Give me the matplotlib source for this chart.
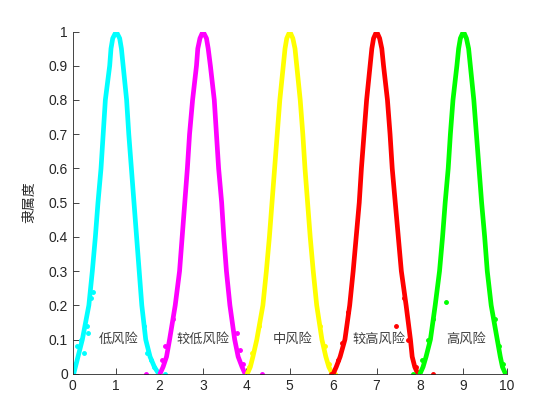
import matplotlib
matplotlib.use('Agg')
import matplotlib.pyplot as plt

plt.rcParams['font.family'] = ['Liberation Sans', 'Noto Sans CJK SC', 'DejaVu Sans']

# 隶属度水平（左右两支共用）
levels = [0.0, 0.02, 0.05, 0.1, 0.2, 0.3, 0.4, 0.5, 0.6, 0.7, 0.8, 0.9, 0.95, 0.98, 1.0]

names = ['低风险', '较低风险', '中风险', '较高风险', '高风险']
colors = ['#00ffff', '#ff00ff', '#ffff00', '#ff0000', '#00ff00']

# 各云左支、右支在各隶属度水平处的x位置
left_x = [
    [0.02, 0.06, 0.12, 0.22, 0.37, 0.45, 0.52, 0.58, 0.65, 0.70, 0.75, 0.85, 0.88, 0.92, 1.0],
    [2.01, 2.08, 2.16, 2.23, 2.36, 2.46, 2.52, 2.58, 2.64, 2.69, 2.76, 2.85, 2.88, 2.93, 3.0],
    [4.02, 4.09, 4.15, 4.24, 4.38, 4.46, 4.53, 4.59, 4.65, 4.71, 4.77, 4.85, 4.89, 4.93, 5.0],
    [6.00, 6.07, 6.16, 6.27, 6.38, 6.46, 6.53, 6.60, 6.65, 6.71, 6.77, 6.85, 6.89, 6.93, 7.0],
    [8.00, 8.07, 8.14, 8.24, 8.35, 8.45, 8.52, 8.58, 8.65, 8.70, 8.76, 8.85, 8.89, 8.93, 9.0],
]
right_x = [
    [1.98, 1.88, 1.78, 1.68, 1.59, 1.53, 1.47, 1.41, 1.35, 1.29, 1.24, 1.16, 1.12, 1.08, 1.0],
    [3.97, 3.90, 3.81, 3.73, 3.62, 3.54, 3.48, 3.43, 3.36, 3.31, 3.26, 3.17, 3.12, 3.08, 3.0],
    [5.98, 5.90, 5.83, 5.74, 5.62, 5.54, 5.47, 5.41, 5.35, 5.30, 5.24, 5.16, 5.12, 5.07, 5.0],
    [7.95, 7.88, 7.82, 7.78, 7.68, 7.57, 7.50, 7.43, 7.36, 7.31, 7.25, 7.16, 7.12, 7.07, 7.0],
    [9.97, 9.90, 9.85, 9.78, 9.64, 9.55, 9.49, 9.42, 9.36, 9.30, 9.24, 9.16, 9.12, 9.07, 9.0],
]

# 离散的云滴
stray_x = [
    [0.05, 0.10, 0.20, 0.25, 0.32, 0.36, 0.42, 0.47, 1.65, 1.72, 1.80, 1.86, 2.12],
    [1.69, 2.05, 2.12, 2.30, 3.78, 3.85, 3.92, 4.35],
    [4.05, 4.12, 4.30, 5.70, 5.80, 5.90, 6.05],
    [5.95, 6.12, 6.20, 6.35, 7.45, 7.62, 7.72, 7.90, 8.30],
    [7.85, 8.05, 8.18, 8.30, 8.60, 9.72, 9.82, 9.92],
]
stray_y = [
    [0.03, 0.08, 0.10, 0.06, 0.14, 0.12, 0.22, 0.24, 0.14, 0.06, 0.04, 0.02, 0.0],
    [0.0, 0.04, 0.08, 0.16, 0.12, 0.07, 0.03, 0.0],
    [0.02, 0.06, 0.14, 0.14, 0.08, 0.03, 0.0],
    [0.0, 0.04, 0.09, 0.18, 0.14, 0.22, 0.10, 0.02, 0.0],
    [0.0, 0.04, 0.10, 0.16, 0.21, 0.16, 0.08, 0.03],
]

# 文字标注位置
label_x = [0.6, 2.4, 4.6, 6.45, 8.6]
label_y = 0.1

fig = plt.figure(figsize=(5.6, 4.2), dpi=100)
ax = fig.add_axes([0.13, 0.11, 0.775, 0.815])

for i in range(5):
    xs = left_x[i] + right_x[i][::-1][1:]
    ys = levels + levels[::-1][1:]
    ax.plot(xs, ys, color=colors[i], lw=3.4, solid_joinstyle='round',
            solid_capstyle='round')
    ax.plot(stray_x[i], stray_y[i], '.', color=colors[i], ms=5)
    ax.text(label_x[i], label_y, names[i], fontsize=9.5, color='#404040',
            va='center', ha='left', family=['Noto Sans CJK SC', 'DejaVu Sans'])

ax.set_xlim(0, 10)
ax.set_ylim(0, 1)
ax.set_xticks(range(0, 11))
ax.set_yticks([i / 10 for i in range(11)])
ax.set_yticklabels(['0', '0.1', '0.2', '0.3', '0.4', '0.5', '0.6', '0.7', '0.8', '0.9', '1'])
ax.tick_params(direction='in', length=4, labelsize=10, colors='#262626', width=0.6)
for s in ['top', 'right']:
    ax.spines[s].set_visible(False)
for s in ['left', 'bottom']:
    ax.spines[s].set_color('#262626')
    ax.spines[s].set_linewidth(0.6)

ax.set_ylabel('隶属度', fontsize=10, color='#262626',
              family=['Noto Sans CJK SC', 'DejaVu Sans'])
ax.yaxis.set_label_coords(-0.084, 0.5)

fig.savefig('out.png', dpi=100)
